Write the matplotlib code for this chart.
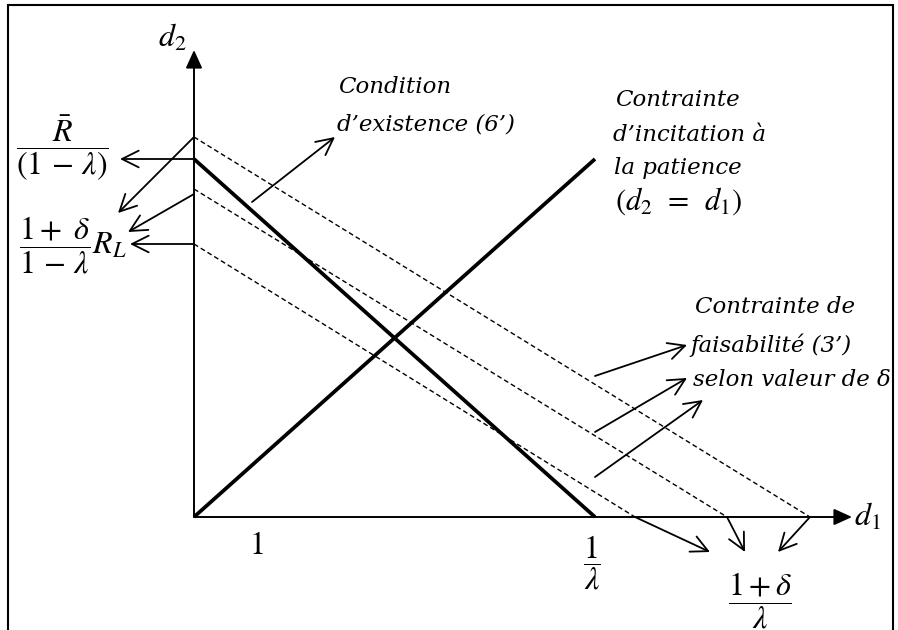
import matplotlib
matplotlib.use("Agg")
import matplotlib.pyplot as plt

plt.rcParams['mathtext.fontset'] = 'stix'

# ---- diagram data (diagram units, origin at the axes' origin) ----
axis_x_end = 658
axis_y_end = 467

existence_d1 = 401      # 1/lambda
existence_d2 = 358      # Rbar/(1-lambda)
incentive_end = (401, 358)

feas_d2 = [380, 328, 273]
feas_d1 = [616, 533, 441]

# annotation arrows: (tail, tip)
left_arrows = [((0, 358), (-74, 358)),
               ((0, 380), (-76, 304)),
               ((0, 323), (-66, 285)),
               ((0, 273), (-64, 273))]
cond_arrow = ((58, 315), (141, 380))
feas_arrows = [((401, 141), (493, 172)),
               ((401, 85), (493, 139)),
               ((401, 40), (509, 117))]
bottom_arrows = [((441, 0), (516, -35)),
                 ((533, 0), (551, -35)),
                 ((616, 0), (584, -35))]

fig = plt.figure(figsize=(8.98, 6.30), dpi=100)
ax = fig.add_axes([0, 0, 1, 1])
ax.set_xlim(-194, 704)
ax.set_ylim(-113, 517)
ax.axis('off')

# frame
ax.plot([-186, -186, 699, 699], [-120, 512, 512, -120], color='k', lw=1.5,
        solid_joinstyle='miter')

# axes with filled arrow heads
ax_style = dict(arrowstyle='-|>,head_length=0.55,head_width=0.25', lw=1.4,
                color='k', shrinkA=0, shrinkB=0, mutation_scale=20)
ax.annotate('', xy=(axis_x_end, 0), xytext=(0, 0), arrowprops=ax_style)
ax.annotate('', xy=(0, axis_y_end), xytext=(0, 0), arrowprops=ax_style)

# thick lines
ax.plot([0, existence_d1], [existence_d2, 0], color='k', lw=2.7,
        solid_capstyle='butt')
ax.plot([0, incentive_end[0]], [0, incentive_end[1]], color='k', lw=2.7,
        solid_capstyle='butt')

# dashed feasibility lines
for y0, x0 in zip(feas_d2, feas_d1):
    ax.plot([0, x0], [y0, 0], color='k', lw=1.0, linestyle=(0, (3.5, 2.2)))

# open arrows
arr_style = dict(arrowstyle='->,head_length=0.6,head_width=0.3', lw=1.3,
                 color='k', shrinkA=0, shrinkB=0, mutation_scale=20)
for tail, tip in left_arrows + [cond_arrow] + feas_arrows + bottom_arrows:
    ax.annotate('', xy=tip, xytext=tail, arrowprops=arr_style)

MS = 23
# axis labels
ax.text(-22, 479, r'$d_2$', fontsize=MS, ha='center', va='center')
ax.text(660, 0, r'$d_1$', fontsize=MS, ha='left', va='center')

# tick-like labels
ax.text(62, -28, r'$1$', fontsize=MS, ha='center', va='center')
ax.text(398, -46, r'$\dfrac{1}{\lambda}$', fontsize=MS, ha='center', va='center')
ax.text(566, -84, r'$\dfrac{1+\delta}{\lambda}$', fontsize=MS, ha='center', va='center')
ax.text(-132, 369, r'$\dfrac{\bar{R}}{(1\,-\,\lambda)}$', fontsize=MS, ha='center', va='center')
ax.text(-121, 272, r'$\dfrac{1+\ \delta}{1\,-\,\lambda}R_L$', fontsize=MS, ha='center', va='center')

# italic annotations
tfont = dict(family='DejaVu Serif', style='italic', fontsize=16.5,
             ha='left', va='center')
ax.text(144, 430, 'Condition', **tfont)
ax.text(143, 392, 'd\u2019existence (6\u2019)', **tfont)
ax.text(421, 417, 'Contrainte', **tfont)
ax.text(419, 382, 'd\u2019incitation \u00e0', **tfont)
ax.text(420, 349, 'la patience', **tfont)
ax.text(421, 316, r'$(d_2\ \,=\ \,d_1)$', fontsize=22, ha='left', va='center')
ax.text(501, 210, 'Contrainte de', **tfont)
ax.text(496, 172, 'faisabilit\u00e9 (3\u2019)', **tfont)
ax.text(499, 137, 'selon valeur de \u03b4', **tfont)

fig.savefig('out.png', dpi=100)
